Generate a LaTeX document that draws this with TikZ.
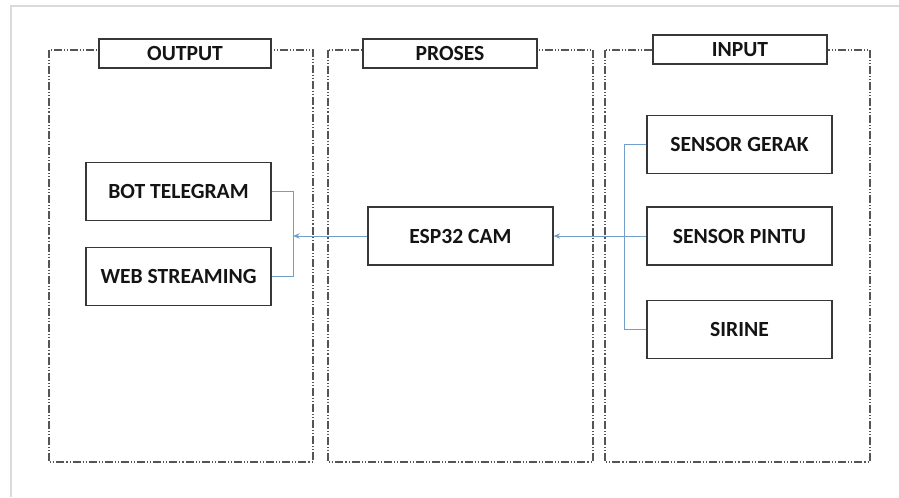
\documentclass[tikz,border=0pt]{standalone}
\usepackage{fontspec}
\setmainfont{Carlito}
\usetikzlibrary{arrows.meta}
\definecolor{conn}{RGB}{115,158,200}
\definecolor{panelline}{RGB}{85,85,85}
\definecolor{boxline}{RGB}{55,55,55}
\definecolor{framegray}{RGB}{218,218,218}
\definecolor{txt}{RGB}{20,20,20}
\tikzset{
  px/.style={x=0.75pt,y=-0.75pt},
  panel/.style={draw=panelline,line width=0.8pt,dash pattern=on 6pt off 1.5pt on 0.8pt off 1.5pt on 0.8pt off 1.5pt},
  blockbox/.style={draw=boxline,line width=0.8pt,fill=white,inner sep=0pt,
    minimum width=138.75pt,minimum height=44pt,text=txt,
    font=\fontsize{16.2}{19}\selectfont\bfseries},
  titlebox/.style={draw=boxline,line width=0.8pt,fill=white,inner sep=0pt,
    minimum height=21.75pt,text=txt,
    font=\fontsize{16.2}{19}\selectfont\bfseries},
  conline/.style={draw=conn,line width=0.75pt},
  conarrow/.style={conline,-{Stealth[length=5pt,width=4pt]}},
}
\begin{document}
\begin{tikzpicture}[px]
\useasboundingbox (0,0) rectangle (899,497);
\fill[white] (0,0) rectangle (899,497);
% outer light frame
\draw[framegray,line width=0.8pt] (11,497) -- (11,6) -- (899,6);
% panels
\draw[panel] (49,50) rectangle (313,462);
\draw[panel] (328,50) rectangle (593,462);
\draw[panel] (605,50) rectangle (870,462);
% title boxes
\node[titlebox,minimum width=129pt] (tout) at (185,53.5) {OUTPUT};
\node[titlebox,minimum width=130.5pt] (tpro) at (450,53.5) {PROSES};
\node[titlebox,minimum width=130.5pt] (tin) at (740,49.5) {INPUT};
% blocks
\node[blockbox] (bot) at (178.5,191.5) {BOT TELEGRAM};
\node[blockbox] (web) at (178.5,276.5) {WEB STREAMING};
\node[blockbox,minimum height=43.5pt] (esp) at (460.5,236) {ESP32 CAM};
\node[blockbox] (gerak) at (739.5,144.5) {SENSOR GERAK};
\node[blockbox,minimum height=43.5pt] (pintu) at (739.5,236) {SENSOR PINTU};
\node[blockbox] (sirine) at (739.5,329.5) {SIRINE};
% bracket columns
\coordinate (inbar) at (624,0);
\coordinate (outbar) at (293,0);
% input side
\draw[conline] (gerak.west) -- (gerak.west -| inbar) -- (sirine.west -| inbar) -- (sirine.west);
\draw[conarrow] (pintu.west) -- (esp.east);
% output side
\draw[conline] (bot.east) -- (bot.east -| outbar) -- (web.east -| outbar) -- (web.east);
\draw[conarrow] (esp.west) -- (esp.west -| outbar);
\end{tikzpicture}
\end{document}
